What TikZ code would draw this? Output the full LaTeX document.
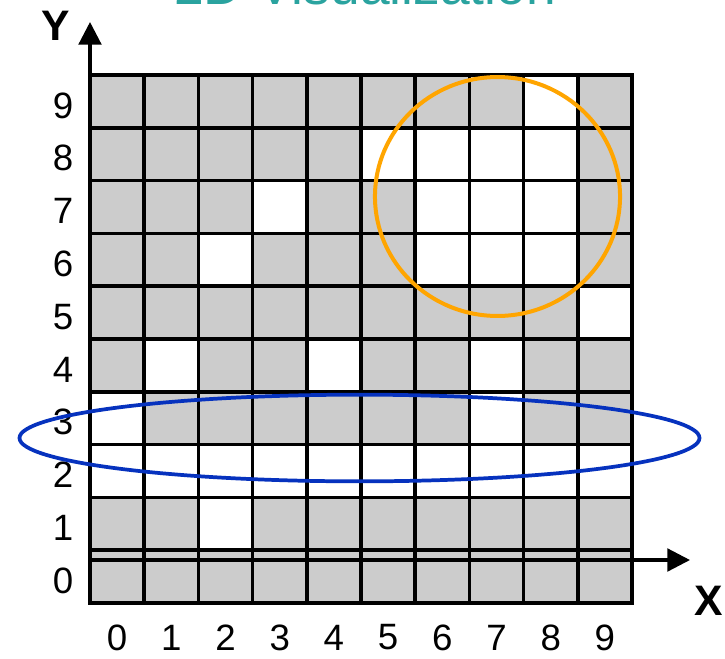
\documentclass[tikz,border=0pt]{standalone}
\usepackage{fontspec}
\setmainfont{Liberation Sans}
\usetikzlibrary{arrows.meta}
\definecolor{cellgray}{HTML}{CCCCCC}
\definecolor{titleteal}{HTML}{2AA39F}
\definecolor{ringorange}{HTML}{FFA500}
\definecolor{ringblue}{HTML}{0632BE}
\begin{document}
\begin{tikzpicture}[x=0.75pt,y=-0.75pt,
  gridline/.style={line width=2.6pt, black, line cap=rect},
  axisline/.style={line width=2.4pt, black, -{Triangle[length=17pt,width=17pt]}},
  ticklabel/.style={font=\fontsize{27.5}{28}\selectfont, inner sep=0pt},
  axislabel/.style={font=\fontsize{32}{32}\selectfont\bfseries, inner sep=0pt},
  titletext/.style={font=\fontsize{40}{40}\selectfont, text=titleteal, inner sep=0pt, anchor=base}]
\useasboundingbox (0,0) rectangle (725,658);
% cells
\fill[cellgray] (90,75) rectangle (632,603);
\foreach \c/\r in {8/9, 5/8,6/8,7/8,8/8, 3/7,6/7,7/7,8/7, 2/6,6/6,7/6,8/6, 9/5, 1/4,4/4,7/4, 0/3,7/3, 0/2,1/2,2/2,3/2,4/2,5/2,6/2,7/2,8/2,9/2, 2/1}
  \fill[white] ({90+54.2*\c},{603-52.8*(\r+1)}) rectangle ({90+54.2*(\c+1)},{603-52.8*\r});
% grid lines
\foreach \i in {0,...,10} {
  \draw[gridline] ({90+54.2*\i},75) -- ({90+54.2*\i},603);
  \draw[gridline] (90,{603-52.8*\i}) -- (632,{603-52.8*\i});
}
% axes
\coordinate (origin) at (90,560);
\coordinate (xend) at (690,560);
\coordinate (ybot) at (90,558);
\coordinate (yend) at (90,22);
\draw[axisline] (origin) -- (xend);
\draw[axisline] (ybot) -- (yend);
% labels
\foreach \i in {0,...,9} {
  \node[ticklabel] (xl\i) at ({90+54.2*(\i+0.5)},637.5) {\i};
  \node[ticklabel] (yl\i) at (63,{603-52.8*(\i+0.5)+4}) {\i};
}
\node[axislabel] (ylab) at (56,26) {Y};
\node[axislabel] (xlab) at (709,601) {X};
% highlight rings
\draw[ringorange, line width=3pt] (497.5,196.5) ellipse [x radius=91.9pt, y radius=89.6pt];
\draw[ringblue, line width=2.8pt] (359.5,438) ellipse [x radius=255pt, y radius=32.5pt];
% title (cut off at the top)
\node[titletext] (title) at (365,4.5) {2D Visualization};
\end{tikzpicture}
\end{document}
